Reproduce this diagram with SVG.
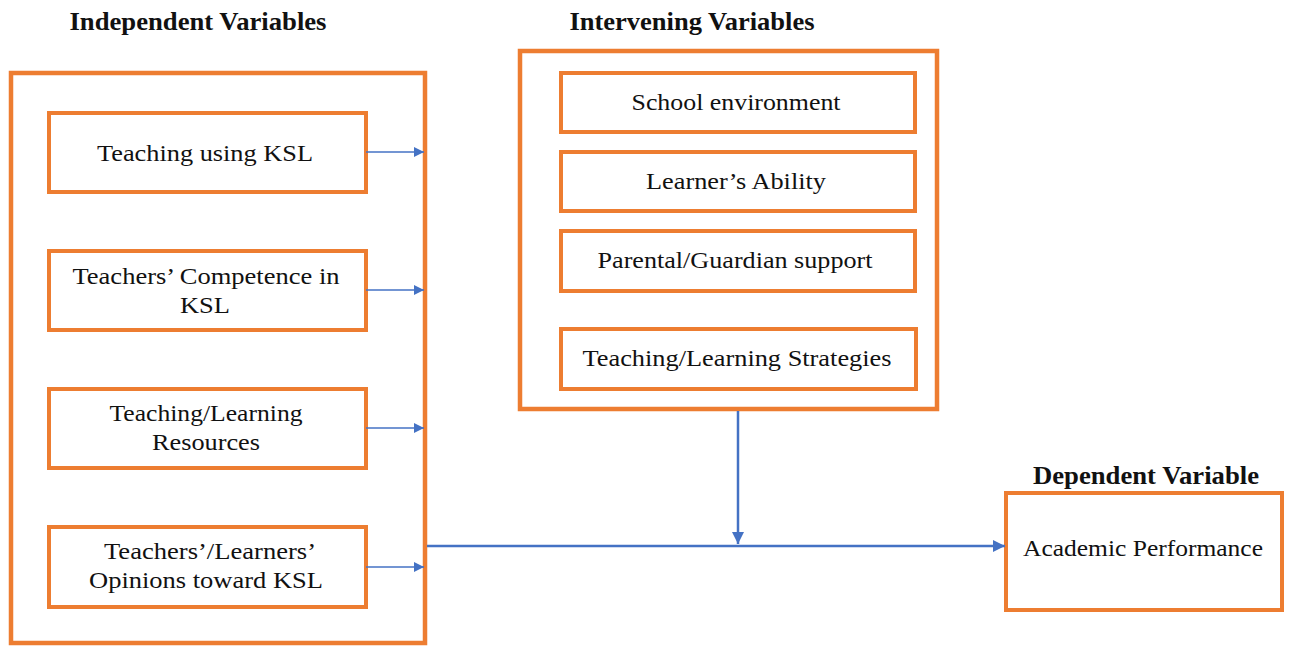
<svg xmlns="http://www.w3.org/2000/svg" width="1289" height="646" viewBox="0 0 1289 646">
<style>
.box{fill:#fff;stroke:#ED7D31;stroke-width:4}
.outer{fill:#fff;stroke:#ED7D31;stroke-width:4.5}
.t{font-family:"Liberation Serif","Times New Roman",serif;font-size:23px;fill:#111;text-anchor:middle}
.h{font-family:"Liberation Serif","Times New Roman",serif;font-size:25px;font-weight:bold;fill:#111;text-anchor:middle}
.c{stroke:#4472C4;fill:none}
</style>
<defs>
<marker id="a" viewBox="0 0 10 10" refX="10" refY="5" markerWidth="10" markerHeight="10" markerUnits="userSpaceOnUse" orient="auto"><path d="M0,0L10,5L0,10z" fill="#4472C4"/></marker>
<marker id="b" viewBox="0 0 10 10" refX="10" refY="5" markerWidth="12" markerHeight="12" markerUnits="userSpaceOnUse" orient="auto"><path d="M0,0L10,5L0,10z" fill="#4472C4"/></marker>
</defs>
<rect width="1289" height="646" fill="#fff"/>
<g id="independent">
<text class="h" x="198" y="30" textLength="257" lengthAdjust="spacingAndGlyphs">Independent Variables</text>
<rect class="outer" x="11" y="73" width="414" height="570"/>
</g>
<g id="iv1"><rect class="box" x="49" y="113" width="317" height="79"/><text class="t" x="205" y="161" textLength="216" lengthAdjust="spacingAndGlyphs">Teaching  using KSL</text></g>
<g id="iv2"><rect class="box" x="49" y="251" width="317" height="79"/><text class="t" x="206" y="284" textLength="267" lengthAdjust="spacingAndGlyphs">Teachers’  Competence in</text><text class="t" x="205" y="313" textLength="50" lengthAdjust="spacingAndGlyphs">KSL</text></g>
<g id="iv3"><rect class="box" x="49" y="389" width="317" height="79"/><text class="t" x="206" y="421" textLength="193" lengthAdjust="spacingAndGlyphs">Teaching/Learning</text><text class="t" x="206" y="450" textLength="108" lengthAdjust="spacingAndGlyphs">Resources</text></g>
<g id="iv4"><rect class="box" x="49" y="527" width="317" height="80"/><text class="t" x="210" y="559" textLength="212" lengthAdjust="spacingAndGlyphs">Teachers’/Learners’</text><text class="t" x="206" y="588" textLength="234" lengthAdjust="spacingAndGlyphs">Opinions toward KSL</text></g>
<g id="intervening">
<text class="h" x="692" y="30" textLength="245" lengthAdjust="spacingAndGlyphs">Intervening Variables</text>
<rect class="outer" x="520" y="51" width="417" height="358"/>
</g>
<g id="int1"><rect class="box" x="561" y="73" width="354" height="59"/><text class="t" x="736" y="110" textLength="209" lengthAdjust="spacingAndGlyphs">School environment</text></g>
<g id="int2"><rect class="box" x="561" y="152" width="354" height="59"/><text class="t" x="736" y="189" textLength="180" lengthAdjust="spacingAndGlyphs">Learner’s Ability</text></g>
<g id="int3"><rect class="box" x="561" y="231" width="354" height="60"/><text class="t" x="735" y="268" textLength="275" lengthAdjust="spacingAndGlyphs">Parental/Guardian support</text></g>
<g id="int4"><rect class="box" x="561" y="329" width="355" height="60"/><text class="t" x="737" y="366" textLength="309" lengthAdjust="spacingAndGlyphs">Teaching/Learning  Strategies</text></g>
<g id="dependent">
<text class="h" x="1146" y="484" textLength="226" lengthAdjust="spacingAndGlyphs">Dependent Variable</text>
<rect class="box" x="1006" y="493" width="276" height="117"/>
<text class="t" x="1143" y="556" textLength="240" lengthAdjust="spacingAndGlyphs">Academic Performance</text>
</g>
<g id="connectors">
<line class="c" stroke-width="1.5" x1="366" y1="152" x2="424" y2="152" marker-end="url(#a)"/>
<line class="c" stroke-width="1.5" x1="366" y1="290" x2="424" y2="290" marker-end="url(#a)"/>
<line class="c" stroke-width="1.5" x1="366" y1="428" x2="424" y2="428" marker-end="url(#a)"/>
<line class="c" stroke-width="1.5" x1="366" y1="567" x2="424" y2="567" marker-end="url(#a)"/>
<line class="c" stroke-width="2.5" x1="738" y1="411" x2="738" y2="544" marker-end="url(#b)"/>
<line class="c" stroke-width="2.5" x1="427" y1="546" x2="1005" y2="546" marker-end="url(#b)"/>
</g>
</svg>
